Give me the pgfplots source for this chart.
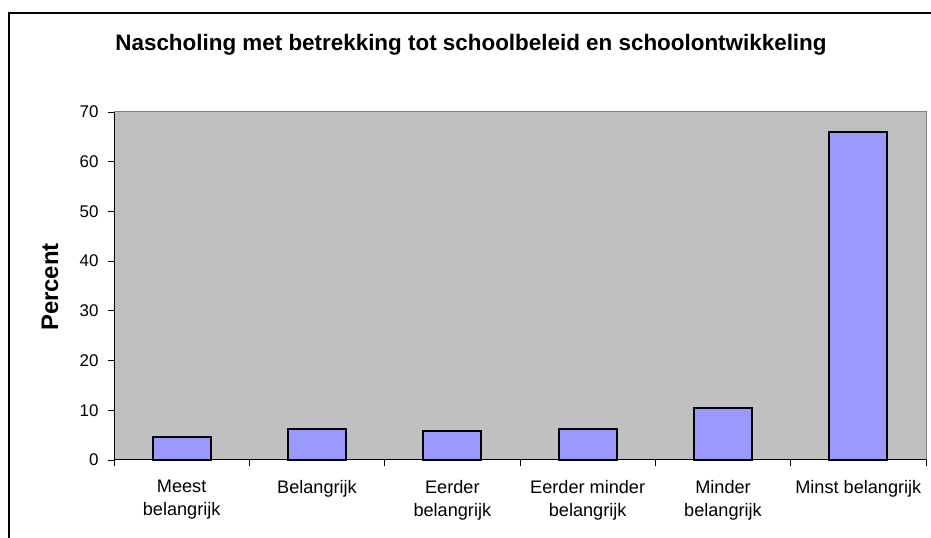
\documentclass[border=0pt]{standalone}
\usepackage{pgfplots}
\pgfplotsset{compat=1.18}
\usepackage{fontspec}
\setmainfont{Liberation Sans}
\definecolor{barfill}{HTML}{9999FF}
\definecolor{plotbg}{HTML}{C0C0C0}
\definecolor{plotborder}{HTML}{808080}
\begin{document}
\begin{tikzpicture}[x=1bp,y=1bp]
\useasboundingbox (0,0) rectangle (931,538);
% outer chart frame (cropped at right and bottom)
\draw[line width=2bp] (9,-5) -- (9,525) -- (940,525);
\node[font=\bfseries\fontsize{22.5}{26}\selectfont] at (471,493) {Nascholing met betrekking tot schoolbeleid en schoolontwikkeling};
\node[font=\bfseries\fontsize{24}{28}\selectfont, rotate=90] at (50,251) {Percent};
\begin{axis}[
  at={(114bp,78bp)}, anchor=south west,
  scale only axis,
  width=812bp, height=348bp,
  xmin=-0.5, xmax=5.5, ymin=0, ymax=70,
  axis background/.style={fill=plotbg},
  axis line style={draw=plotborder, line width=1bp},
  ytick={0,10,...,70},
  xtick={0,1,2,3,4,5},
  xticklabels={{Meest\\belangrijk},{Belangrijk},{Eerder\\belangrijk},{Eerder minder\\belangrijk},{Minder\\belangrijk},{Minst belangrijk}},
  minor xtick={-0.5,0.5,1.5,2.5,3.5,4.5,5.5},
  xtick pos=bottom, ytick pos=left,
  major x tick style={draw=none},
  minor x tick style={draw=black, line width=0.8bp},
  y tick style={draw=black, line width=0.8bp},
  tick align=outside,
  major tick length=6bp, minor tick length=6bp,
  xticklabel style={font=\fontsize{18.2}{23}\selectfont, align=center, anchor=north, yshift=-11bp},
  yticklabel style={font=\fontsize{17}{20}\selectfont, xshift=-6bp},
  /pgf/number format/assume math mode=true,
  clip=false,
]
\addplot[ybar, bar width=58bp, fill=barfill, draw=black, line width=1.8bp] coordinates {
(0,4.6) (1,6.2) (2,5.8) (3,6.2) (4,10.5) (5,66.0)
};
\draw[black, line width=1bp] (axis cs:-0.5,70) -- (axis cs:-0.5,0) -- (axis cs:5.5,0);
\end{axis}
\end{tikzpicture}
\end{document}
